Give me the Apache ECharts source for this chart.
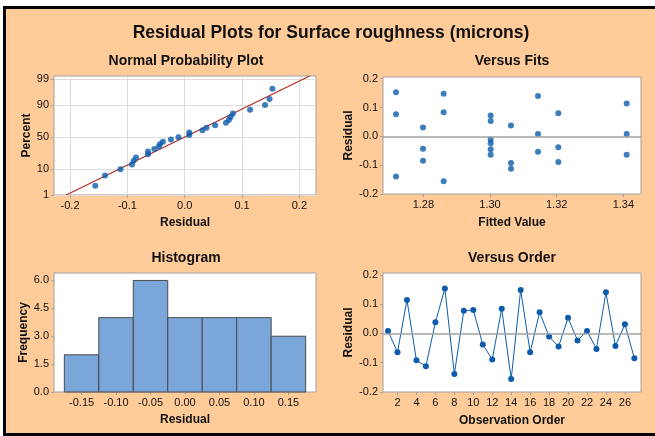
<!DOCTYPE html>
<html>
<head>
<meta charset="utf-8">
<script src="https://cdn.jsdelivr.net/npm/echarts@6/dist/echarts.min.js"></script>
<style>
  html, body { margin: 0; padding: 0; background: #fff; }
  .frame {
    position: absolute; left: 3px; top: 6px; width: 652px; height: 430px;
    box-sizing: border-box; background: #FFCC99;
    border-left: 3px solid #000; border-top: 3px solid #000; border-bottom: 3px solid #000;
  }
  #chart { position: absolute; left: 0; top: 0; width: 655px; height: 436px; }
</style>
</head>
<body>
<div class="frame"></div>
<div id="chart"></div>
<script>
// residuals in observation order (read from "Versus Order")
const residuals = [0.008, -0.064, 0.114, -0.092, -0.112, 0.038, 0.153, -0.139, 0.077,
  0.080, -0.038, -0.089, 0.084, -0.156, 0.148, -0.064, 0.072, -0.011,
  -0.045, 0.053, -0.024, 0.008, -0.053, 0.140, -0.043, 0.031, -0.085];
// fitted value for each observation (read from "Versus Fits")
const fitted = [1.3410, 1.3410, 1.3410, 1.3063, 1.3063, 1.3063, 1.2718, 1.2718, 1.2718,
  1.3205, 1.3205, 1.3205, 1.2861, 1.2861, 1.2861, 1.3002, 1.3002, 1.3002,
  1.3002, 1.3002, 1.3002, 1.3144, 1.3144, 1.3144, 1.2799, 1.2799, 1.2799];
// histogram
const binCenters = [-0.15, -0.10, -0.05, 0.00, 0.05, 0.10, 0.15];
const frequencies = [2, 4, 6, 4, 4, 4, 3];
const binWidth = 0.05;
// tick labels
const pctTicks = [1, 10, 50, 90, 99];
const nppXTicks = [-0.2, -0.1, 0.0, 0.1, 0.2];
const resTicks = [-0.2, -0.1, 0.0, 0.1, 0.2];
const fitTicks = [1.28, 1.30, 1.32, 1.34];
const histXTicks = [-0.15, -0.10, -0.05, 0.00, 0.05, 0.10, 0.15];
const histYTicks = [0, 1.5, 3.0, 4.5, 6.0];
const orderTicks = [2, 4, 6, 8, 10, 12, 14, 16, 18, 20, 22, 24, 26];

const FONT = '"Liberation Sans", Arial, sans-serif';
const BLUE = '#0D5CAB';
const GRAY = '#A0A0A0';
const TXT = '#111';

// inverse normal cdf (Acklam)
function probit(p) {
  const a = [-3.969683028665376e+01, 2.209460984245205e+02, -2.759285104469687e+02,
    1.383577518672690e+02, -3.066479806614716e+01, 2.506628277459239e+00];
  const b = [-5.447609879822406e+01, 1.615858368580409e+02, -1.556989798598866e+02,
    6.680131188771972e+01, -1.328068155288572e+01];
  const c = [-7.784894002430293e-03, -3.223964580411365e-01, -2.400758277161838e+00,
    -2.549732539343734e+00, 4.374664141464968e+00, 2.938163982698783e+00];
  const d = [7.784695709041462e-03, 3.224671290700398e-01, 2.445134137142996e+00,
    3.754408661907416e+00];
  const pl = 0.02425;
  let q, r;
  if (p < pl) {
    q = Math.sqrt(-2 * Math.log(p));
    return (((((c[0]*q+c[1])*q+c[2])*q+c[3])*q+c[4])*q+c[5]) / ((((d[0]*q+d[1])*q+d[2])*q+d[3])*q+1);
  }
  if (p > 1 - pl) {
    q = Math.sqrt(-2 * Math.log(1 - p));
    return -(((((c[0]*q+c[1])*q+c[2])*q+c[3])*q+c[4])*q+c[5]) / ((((d[0]*q+d[1])*q+d[2])*q+d[3])*q+1);
  }
  q = p - 0.5; r = q * q;
  return (((((a[0]*r+a[1])*r+a[2])*r+a[3])*r+a[4])*r+a[5])*q / (((((b[0]*r+b[1])*r+b[2])*r+b[3])*r+b[4])*r+1);
}

const n = residuals.length;
const sorted = residuals.slice().sort((x, y) => x - y);
const nppData = sorted.map((r, i) => [r, probit((i + 1 - 0.3) / (n + 0.4))]);
const mean = residuals.reduce((s, v) => s + v, 0) / n;
const sd = Math.sqrt(residuals.reduce((s, v) => s + (v - mean) * (v - mean), 0) / (n - 1));
const zMin = probit(0.01);
const zMax = 2.46;
const pctZ = pctTicks.map(p => probit(p / 100));

function valueAxis(gridIndex, min, max, ticks, fmt, name, nameGap, showSplit) {
  return {
    type: 'value', gridIndex, min, max,
    name, nameLocation: 'middle', nameGap,
    nameTextStyle: { fontFamily: FONT, fontSize: 12, fontWeight: 'bold', color: TXT },
    axisLine: { show: false, onZero: false },
    axisTick: { show: true, length: 3, customValues: ticks, lineStyle: { color: GRAY } },
    axisLabel: { customValues: ticks, formatter: fmt, margin: 5,
      fontFamily: FONT, fontSize: 11, color: TXT },
    splitLine: { show: !!showSplit, lineStyle: { color: '#DCDCDC', width: 1 } }
  };
}

const gridStyle = { show: true, backgroundColor: '#fff', borderColor: GRAY, borderWidth: 1,
  containLabel: false, outerBoundsMode: 'none' };

const zeroLine = {
  silent: true, symbol: 'none', label: { show: false },
  lineStyle: { color: GRAY, width: 1.5, type: 'solid' },
  data: [{ yAxis: 0 }]
};

function heading(text, x, y, size) {
  return { type: 'text', x, y, style: { text, x: 0, y: 0, align: 'center', verticalAlign: 'middle',
    font: 'bold ' + size + 'px ' + FONT, fill: TXT } };
}

const chart = echarts.init(document.getElementById('chart'), null, { renderer: 'canvas' });
chart.setOption({
  animation: false,
  backgroundColor: 'transparent',
  graphic: [
    heading('Residual Plots for Surface roughness (microns)', 331, 33, 17.5),
    heading('Normal Probability Plot', 186, 61, 14),
    heading('Versus Fits', 512, 61, 14),
    heading('Histogram', 186, 258, 14),
    heading('Versus Order', 512, 258, 14)
  ],
  grid: [
    Object.assign({ left: 54, top: 76, width: 262, height: 119 }, gridStyle),
    Object.assign({ left: 383, top: 77, width: 258, height: 117 }, gridStyle),
    Object.assign({ left: 54, top: 273, width: 262, height: 119 }, gridStyle),
    Object.assign({ left: 383, top: 273, width: 258, height: 119 }, gridStyle)
  ],
  xAxis: [
    valueAxis(0, -0.228, 0.229, nppXTicks, v => v.toFixed(1), 'Residual', 22, true),
    valueAxis(1, 1.2679, 1.3453, fitTicks, v => v.toFixed(2), 'Fitted Value', 23),
    valueAxis(2, -0.19, 0.19, histXTicks, v => v.toFixed(2), 'Residual', 22),
    valueAxis(3, 0.47, 27.7, orderTicks, v => String(v), 'Observation Order', 23)
  ],
  yAxis: [
    valueAxis(0, zMin, zMax, pctZ, v => {
      let best = 0;
      pctZ.forEach((z, i) => { if (Math.abs(z - v) < Math.abs(pctZ[best] - v)) best = i; });
      return String(pctTicks[best]);
    }, 'Percent', 21, true),
    valueAxis(1, -0.2, 0.206, resTicks, v => v.toFixed(1), 'Residual', 25),
    valueAxis(2, 0, 6.4, histYTicks, v => v.toFixed(1), 'Frequency', 21),
    valueAxis(3, -0.2, 0.206, resTicks, v => v.toFixed(1), 'Residual', 25)
  ],
  series: [
    {
      type: 'line', xAxisIndex: 0, yAxisIndex: 0, clip: true,
      data: [[mean + zMin * sd, zMin], [mean + zMax * sd, zMax]],
      symbol: 'none', lineStyle: { color: '#B02A25', width: 1.2 }, z: 2
    },
    {
      type: 'scatter', xAxisIndex: 0, yAxisIndex: 0,
      data: nppData, symbolSize: 6, itemStyle: { color: BLUE }, z: 3
    },
    {
      type: 'scatter', xAxisIndex: 1, yAxisIndex: 1,
      data: residuals.map((r, i) => [fitted[i], r]),
      symbolSize: 6, itemStyle: { color: BLUE }, markLine: zeroLine
    },
    {
      type: 'custom', xAxisIndex: 2, yAxisIndex: 2,
      data: binCenters.map((c, i) => [c, frequencies[i]]),
      renderItem: (params, api) => {
        const c = api.value(0), f = api.value(1);
        const p0 = api.coord([c - binWidth / 2, f]);
        const p1 = api.coord([c + binWidth / 2, 0]);
        return {
          type: 'rect',
          shape: { x: p0[0], y: p0[1], width: p1[0] - p0[0], height: p1[1] - p0[1] },
          style: { fill: '#7BA6DA', stroke: '#4A4A4A', lineWidth: 1 }
        };
      }
    },
    {
      type: 'line', xAxisIndex: 3, yAxisIndex: 3,
      data: residuals.map((r, i) => [i + 1, r]),
      symbol: 'circle', symbolSize: 6, itemStyle: { color: BLUE },
      lineStyle: { color: BLUE, width: 1 }, markLine: zeroLine
    }
  ]
});
</script>
</body>
</html>
